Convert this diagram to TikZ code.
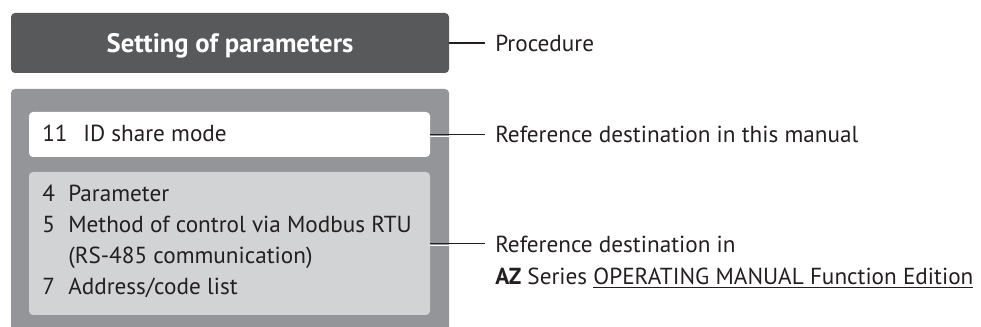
\documentclass[tikz,border=0pt]{standalone}
\usepackage{fontspec}
\setmainfont{PT Sans}
\usetikzlibrary{positioning}
\definecolor{darkbox}{HTML}{58595B}
\definecolor{panelgray}{HTML}{939598}
\definecolor{lightbox}{HTML}{D1D3D4}
\definecolor{ink}{HTML}{231F20}

\tikzset{
  box/.style={rounded corners=3pt, inner sep=0pt, minimum width=300.75pt},
  txt/.style={anchor=base west, inner sep=0pt, text=ink, font=\fontsize{17.4}{20}\selectfont},
  lead/.style={draw=ink, line width=0.8pt},
  halo/.style={draw=white, line width=1pt},
}

\begin{document}
\begin{tikzpicture}[x=0.75pt, y=-0.75pt]
        \useasboundingbox (0,0) rectangle (981,327);
        % boxes
        \node[box, fill=darkbox, minimum width=328.5pt, minimum height=45pt] (title) at (230,43) {};
        \node[anchor=base, inner sep=0pt, text=white, font=\fontsize{20}{24}\selectfont\bfseries] (titletxt) at (230,53) {Setting of parameters};
        \fill[panelgray] (11,340) [rounded corners=3pt] -- (11,89) -- (449,89) [sharp corners] -- (449,340) -- cycle;
        \coordinate (panel) at (449,208);
        \node[box, fill=white, minimum height=33.75pt] (own) at (229.5,134.5) {};
        \node[box, fill=lightbox, minimum height=107.25pt] (other) at (229.5,243.5) {};
        % texts in the boxes
        \node[txt] (n11) at (42,142) {11};
        \node[txt] (t11) at (83,142) {ID share mode};
        \foreach \n/\t/\y [count=\i] in {4/Parameter/202, 5/Method of control via Modbus RTU/233, /(RS-485 communication)/264, 7/Address\slash code list/295}{
            \node[txt] (n\i) at (42,\y) {\n};
            \node[txt] (t\i) at (68,\y) {\t};
        }
        % labels on the right
        \node[txt] (proc) at (495,52) {Procedure};
        \node[txt] (here) at (495,143) {Reference destination in this manual};
        \node[txt] (there) at (495,253) {Reference destination in};
        \node[txt] (manual) at (495,285) {\textbf{AZ} Series \underline{OPERATING MANUAL Function Edition}};
        % leaders
        \draw[lead] (title.east) -- ([xshift=-7.5pt]title.east -| proc.west);
        \draw[halo] ([yshift=-1.5pt]own.east) -- ([yshift=-1.5pt]own.east -| panel);
        \draw[lead] (own.east) -- ([xshift=-7.5pt]own.east -| here.west);
        \draw[halo] ([yshift=-1.5pt]other.east) -- ([yshift=-1.5pt]other.east -| panel);
        \draw[lead] (other.east) -- ([xshift=-7.5pt]other.east -| there.west);
\end{tikzpicture}
\end{document}
